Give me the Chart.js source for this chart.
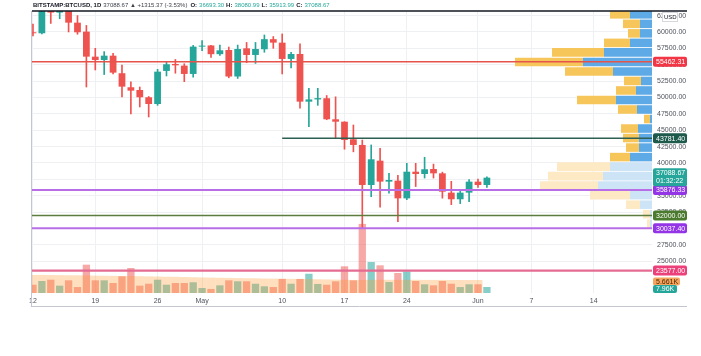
<!DOCTYPE html>
<html><head><meta charset="utf-8">
<script src="https://cdn.jsdelivr.net/npm/chart.js@4"></script>
<style>
html,body{margin:0;padding:0;background:#fff;}
#wrap{position:relative;width:701px;height:356px;overflow:hidden;}
canvas{display:block;}
#hdr{position:absolute;left:33px;top:1px;font:6px 'Liberation Sans',Arial,sans-serif;color:#131722;white-space:nowrap;line-height:8px;}
#hdr b{font-weight:bold;margin-right:2px}
#hdr .g{margin-right:3px;color:#3c3f48}
#hdr .v{color:#26a69a;margin-right:2px}
</style></head><body>
<div id="wrap"><canvas id="c" width="701" height="356"></canvas>
<div id="hdr"><b>BITSTAMP:BTCUSD, 1D</b><span class="g">37088.67 ▲ +1315.37 (-3.53%)</span><b>O:</b><span class="v">36693.30</span><b>H:</b><span class="v">38080.99</span><b>L:</b><span class="v">35913.99</span><b>C:</b><span class="v">37088.67</span></div></div>
<script>
// ---- data ----
const days = ['Apr 12','Apr 13','Apr 14','Apr 15','Apr 16','Apr 17','Apr 18','Apr 19','Apr 20','Apr 21',
  'Apr 22','Apr 23','Apr 24','Apr 25','Apr 26','Apr 27','Apr 28','Apr 29','Apr 30','May 1',
  'May 2','May 3','May 4','May 5','May 6','May 7','May 8','May 9','May 10','May 11',
  'May 12','May 13','May 14','May 15','May 16','May 17','May 18','May 19','May 20','May 21',
  'May 22','May 23','May 24','May 25','May 26','May 27','May 28','May 29','May 30','May 31',
  'Jun 1','Jun 2'];
const open = [59900,59800,63570,62960,63230,61420,60050,56230,55720,56380,
  53700,51560,51140,50030,49000,54050,55110,54860,53590,57760,
  57940,56610,57250,53200,57500,56490,57360,58900,58370,55880,
  56640,49360,49700,49880,46670,46300,43620,42750,36640,40350,
  37150,37300,34600,38670,38320,39080,38420,35470,34460,35470,
  37150,36640];
const close = [59800,63570,62960,63230,61420,59950,56230,55720,56380,53790,
  51650,51040,50030,49000,53940,55070,54910,53590,57760,57800,
  56610,57200,53200,57400,56490,57400,58900,58370,55880,56640,
  49360,49700,49900,46670,46300,43510,42750,36640,40560,37150,
  37400,34600,38670,38320,39040,38420,35620,34460,35470,37150,
  36640,37760];
const high = [61200,63800,64860,63800,63550,62500,61000,57500,57000,56750,
  54960,52400,51600,50150,54300,55400,55800,55150,57950,58670,
  57950,58000,57700,58000,58400,58400,59540,59300,59700,56900,
  58170,51400,51400,50300,50100,46300,45800,43500,42750,42250,
  38400,38100,39950,39950,40870,39830,38600,37200,35900,37450,
  37550,37900];
const low = [59400,59700,61300,62020,60000,59650,51600,54200,53500,53600,
  50100,47480,48550,47020,48800,53280,53700,52410,53100,57140,
  56100,56400,53000,52900,55300,55200,56900,57500,53590,54500,
  48350,45540,48800,46600,43770,42100,41700,30000,34850,33240,
  35400,31040,34400,36400,37700,37700,34630,33630,33800,34100,
  36250,36250];
const volumeK = [7.8,11.3,12.5,6.9,11.9,5.6,26.6,11.9,11.9,9.4,
  15.7,23.5,6.9,8.7,12.5,7.8,9.4,9.4,10.1,4.7,
  3.8,7.2,11.9,11.0,11.0,8.7,6.3,5.6,13.2,8.7,
  13.2,18.1,8.5,7.8,11.0,25.1,11.9,64.9,29.1,26.0,
  10.3,18.8,20.4,11.3,8.2,7.2,11.3,8.7,5.6,8.2,
  8.2,5.66];
const volumeMaK = [17.0,17.0,16.9,16.8,16.7,16.6,16.5,16.3,16.2,16.1,
  16.0,15.9,15.8,15.6,15.5,15.3,15.2,15.0,14.8,14.6,
  14.5,14.3,14.2,14.0,13.9,13.8,13.6,13.5,13.4,13.3,
  13.2,13.1,12.9,12.8,12.6,12.4,12.3,12.3,12.4,12.4,
  12.4,12.4,12.4,12.4,12.3,12.3,12.3,12.2,12.2,12.2,
  12.2];
const xTickDays = [0,7,14,19,28,35,42,50,56,63];
const xTickLabels = ['12','19','26','May','10','17','24','Jun','7','14'];
const priceTicks = [25000,27500,30000,32500,35000,37500,40000,42500,45000,47500,50000,52500,55000,57500,60000,62500];
// visible-range volume profile rows (row mid price, up / down volume)
const profileMid = [30727,32180,33633,35086,36539,37992,39445,40898,42351,43804,
  45257,46710,48163,49616,51069,52522,53975,55428,56881,58334,
  59787,61240,62693,64146];
const profileUp = [2,2,12,22,54,49,42,22,13,13,14,2,15,36,16,11,39,69,48,22,12,12,22,15];
const profileDown = [3,7,14,40,58,55,53,20,13,16,17,6,19,39,20,17,48,68,52,26,12,17,20,15];
// horizontal levels
const levelPrices = [55462.31, 43781.40, 35876.33, 32000.00, 30037.40, 23577.00];
const levelFromDay = [null, 28, null, null, null, null];
const lastPriceText = '37088.67';
const countdownText = '01:32:22';
const volTagText = '7.96K';
const volMaTagText = '5.661K';

// ---- styles ----
const F = "'Liberation Sans', Arial, sans-serif";
const UP = '#26a69a', DOWN = '#ef5350';
const levelColors = ['#e5534b','#2d5f52','#b86ee6','#5c7d3f','#b86ee6','#e46b92'];
const levelWidths = [1.5,1.5,2,1.5,2,2.2];
const tagColors = ['#f23645','#1d5a4c','#9334e6','#4a7a2e','#9334e6','#ec407a'];
const fadedRows = [0,1,2,3,4,5,6];
const X_MIN = -0.11, X_MAX = 69.55, Y_MIN = 20150, Y_MAX = 63200;

const isUp = i => close[i] >= open[i];
const candleColors = days.map((d,i) => isUp(i) ? UP : DOWN);
const volColors = days.map((d,i) => isUp(i) ? 'rgba(38,166,154,0.55)' : 'rgba(239,83,80,0.5)');

const datasets = [
  {type:'bar', indexAxis:'y', xAxisID:'xp', yAxisID:'yp', order:10, grouped:false,
   barPercentage:0.9, categoryPercentage:1,
   data: profileMid.map((p,i)=>({y:p, x:[0, profileUp[i]]})),
   backgroundColor: profileMid.map((p,i)=> fadedRows.includes(i) ? '#cde4f7' : '#5eaae6')},
  {type:'bar', indexAxis:'y', xAxisID:'xp', yAxisID:'yp', order:10, grouped:false,
   barPercentage:0.9, categoryPercentage:1,
   data: profileMid.map((p,i)=>({y:p, x:[profileUp[i], profileUp[i]+profileDown[i]]})),
   backgroundColor: profileMid.map((p,i)=> fadedRows.includes(i) ? '#fde9c4' : '#f6c65b')},
  {type:'bar', xAxisID:'x', yAxisID:'yv', order:8, grouped:false,
   barPercentage:0.82, categoryPercentage:1,
   data: days.map((d,i)=>({x:i, y:volumeK[i]})), backgroundColor: volColors},
  {type:'bar', xAxisID:'x', yAxisID:'yv', order:7, grouped:false, inflateAmount:0,
   barPercentage:1, categoryPercentage:1,
   data: volumeMaK.map((v,i)=>({x:i, y:v})), backgroundColor:'rgba(255,150,40,0.3)'},
  {type:'bar', xAxisID:'x', yAxisID:'y', order:5, grouped:false,
   barPercentage:1, categoryPercentage:1, maxBarThickness:1,
   data: days.map((d,i)=>({x:i, y:[low[i], high[i]]})), backgroundColor: candleColors},
  {type:'bar', xAxisID:'x', yAxisID:'y', order:4, grouped:false, minBarLength:1,
   barPercentage:0.76, categoryPercentage:1,
   data: days.map((d,i)=>({x:i, y:[open[i], close[i]]})), backgroundColor: candleColors}
];
levelPrices.forEach((p,k) => {
  datasets.push({type:'line', xAxisID:'x', yAxisID:'y', order:2,
    data:[{x: levelFromDay[k] === null ? X_MIN : levelFromDay[k], y:p}, {x:X_MAX, y:p}],
    borderColor: levelColors[k], borderWidth: levelWidths[k], pointRadius:0, tension:0});
});

function tag(ctx, text, cy, bg, fg, w, h) {
  const x = 653, y = cy - h/2, r = 2;
  ctx.fillStyle = bg;
  ctx.beginPath();
  ctx.moveTo(x+r,y); ctx.lineTo(x+w-r,y); ctx.quadraticCurveTo(x+w,y,x+w,y+r);
  ctx.lineTo(x+w,y+h-r); ctx.quadraticCurveTo(x+w,y+h,x+w-r,y+h);
  ctx.lineTo(x+r,y+h); ctx.quadraticCurveTo(x,y+h,x,y+h-r);
  ctx.lineTo(x,y+r); ctx.quadraticCurveTo(x,y,x+r,y); ctx.fill();
  ctx.fillStyle = fg;
  if (Array.isArray(text)) {
    ctx.fillText(text[0], x+3, y+h*0.3);
    ctx.fillText(text[1], x+3, y+h*0.72);
  } else ctx.fillText(text, x+3, cy+0.5);
}

const overlay = {
  id:'overlay',
  afterDraw(chart) {
    const {ctx, chartArea:a, scales} = chart;
    const y = scales.y, yv = scales.yv;
    ctx.save();
    ctx.strokeStyle = '#131722'; ctx.lineWidth = 1.5;
    ctx.beginPath(); ctx.moveTo(a.left, a.top); ctx.lineTo(y.right, a.top); ctx.stroke();
    ctx.strokeStyle = '#c3c6ce'; ctx.lineWidth = 1;
    const b = scales.x.bottom;
    ctx.beginPath(); ctx.moveTo(a.left-0.5, a.top); ctx.lineTo(a.left-0.5, b);
    ctx.moveTo(a.left, b-0.5); ctx.lineTo(y.right, b-0.5); ctx.stroke();
    ctx.font = '7px ' + F; ctx.textAlign = 'left'; ctx.textBaseline = 'middle';
    // USD box
    ctx.fillStyle = '#fff'; ctx.fillRect(662, 12.5, 16, 9);
    ctx.strokeStyle = '#d6d8de'; ctx.strokeRect(662.5, 12.5, 15, 9);
    ctx.fillStyle = '#131722'; ctx.font = '6px ' + F; ctx.fillText('USD', 664, 17.5);
    ctx.font = '7px ' + F;
    levelPrices.forEach((p,k) => tag(ctx, p.toFixed(2), y.getPixelForValue(p), tagColors[k], '#fff', 34, 10));
    const ly = y.getPixelForValue(close[close.length-1]);
    tag(ctx, [lastPriceText, countdownText], ly - 0.5, '#26a69a', '#fff', 34, 18);
    const maY = yv.getPixelForValue(volumeMaK[volumeMaK.length-1]) + 1.5;
    tag(ctx, volMaTagText, maY, '#f7a55e', '#4a2600', 27, 8);
    const vY = Math.max(yv.getPixelForValue(volumeK[volumeK.length-1]), maY + 7.5);
    tag(ctx, volTagText, vY, '#26a69a', '#fff', 24, 8);
    ctx.restore();
  }
};

new Chart(document.getElementById('c'), {
  type:'bar',
  data:{datasets},
  plugins:[overlay],
  options:{
    responsive:false, animation:false, devicePixelRatio:1,
    layout:{padding:{left:32, top:11, right:14, bottom:49}},
    plugins:{legend:{display:false}, tooltip:{enabled:false}},
    scales:{
      x:{type:'linear', axis:'x', position:'bottom', min:X_MIN, max:X_MAX, offset:false,
        grid:{color:'#eef0f4', drawTicks:false, offset:false}, border:{display:false},
        ticks:{font:{size:7, family:F}, color:'#50535e', padding:4, autoSkip:false, maxRotation:0,
          callback:(v)=>{const k = xTickDays.indexOf(v); return k >= 0 ? xTickLabels[k] : '';}},
        afterBuildTicks:(s)=>{ s.ticks = xTickDays.map(v=>({value:v})); },
        afterFit:(s)=>{ s.height = 14; }},
      y:{type:'linear', axis:'y', position:'right', display:true, min:Y_MIN, max:Y_MAX, offset:false,
        grid:{color:'#eef0f4', drawTicks:false, offset:false}, border:{display:false},
        ticks:{display:true, autoSkip:false, font:{size:7, family:F}, color:'#50535e', padding:5,
          callback:(v)=>Number(v).toFixed(2)},
        afterBuildTicks:(s)=>{ s.ticks = priceTicks.map(v=>({value:v})); },
        afterFit:(s)=>{ s.width = 35; }},
      yv:{type:'linear', axis:'y', position:'right', display:false, min:0, max:265, offset:false},
      yp:{type:'linear', axis:'y', position:'right', display:false, min:Y_MIN, max:Y_MAX, offset:false},
      xp:{type:'linear', axis:'x', position:'bottom', display:false, min:0, max:620, reverse:true, offset:false}
    }
  }
});
</script>
</body></html>
